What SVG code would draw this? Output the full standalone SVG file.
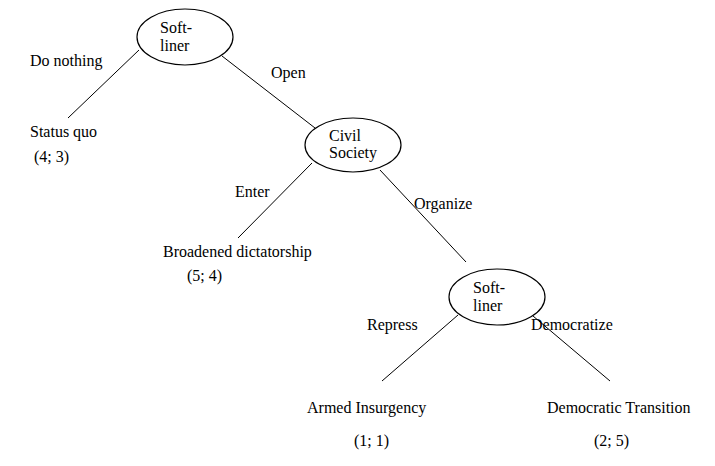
<svg xmlns="http://www.w3.org/2000/svg" width="715" height="466" viewBox="0 0 715 466">
<style>
text{font-family:"Liberation Serif","Times New Roman","DejaVu Serif",serif;font-size:16px;fill:#000}
ellipse{fill:#fff;stroke:#000;stroke-width:1.2}
line{stroke:#000;stroke-width:1}
</style>
<rect width="715" height="466" fill="#fff"/>
<g id="connectors">
<line x1="139" y1="50" x2="68" y2="118"/>
<line x1="222" y1="56" x2="315" y2="128"/>
<line x1="312" y1="163" x2="238" y2="238"/>
<line x1="380" y1="170" x2="466" y2="262"/>
<line x1="458" y1="315" x2="382" y2="381"/>
<line x1="533" y1="316" x2="610" y2="381"/>
</g>
<g id="n1"><ellipse cx="185" cy="37" rx="48" ry="28"/><text x="160" y="33">Soft-</text><text x="160" y="51">liner</text></g>
<g id="n2"><ellipse cx="353" cy="145" rx="48" ry="27"/><text x="329" y="141">Civil</text><text x="329" y="158">Society</text></g>
<g id="n3"><ellipse cx="497" cy="297" rx="48" ry="28"/><text x="473" y="293">Soft-</text><text x="473" y="311">liner</text></g>
<g id="labels">
<text x="30" y="66">Do nothing</text>
<text x="271" y="78">Open</text>
<text x="30" y="137">Status quo</text>
<text x="34" y="162">(4; 3)</text>
<text x="235" y="197">Enter</text>
<text x="414" y="209">Organize</text>
<text x="163" y="257">Broadened dictatorship</text>
<text x="187" y="281">(5; 4)</text>
<text x="367" y="330">Repress</text>
<text x="531" y="330">Democratize</text>
<text x="307" y="413">Armed Insurgency</text>
<text x="547" y="413">Democratic Transition</text>
<text x="354" y="446">(1; 1)</text>
<text x="594" y="446">(2; 5)</text>
</g>
</svg>
